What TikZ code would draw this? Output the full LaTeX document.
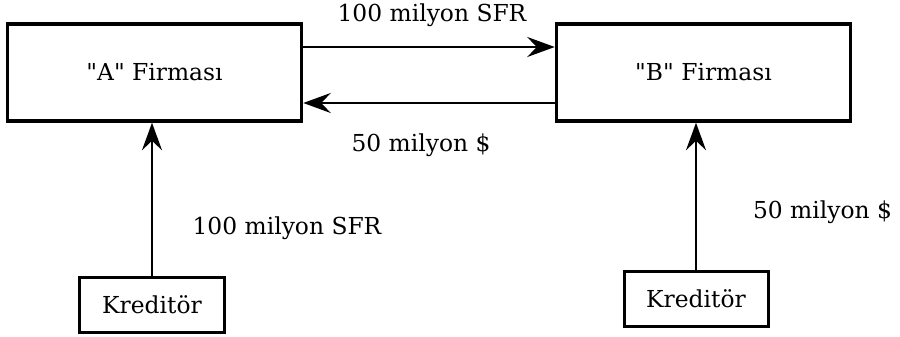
\documentclass[tikz,border=0pt]{standalone}
\usepackage{fontspec}
\setmainfont{DejaVu Serif}
\usetikzlibrary{arrows.meta}
\tikzset{
	firma/.style={draw, line width=0.7mm, minimum width=5.88cm, minimum height=1.94cm, font=\fontsize{13.3}{16}\selectfont},
	kredi/.style={draw, line width=0.6mm, minimum width=2.88cm, minimum height=1.1cm, font=\fontsize{13.3}{16}\selectfont},
	akis/.style={line width=0.5mm, -{Stealth[length=5.5mm, width=4mm, inset=1.9mm]}},
	tutar/.style={font=\fontsize{13.3}{16}\selectfont}
}

\begin{document}
\begin{tikzpicture}
			%%%%% START %%%%%
			\useasboundingbox (0, 0) rectangle (18, 6.72);
			
			\node[firma] (firmaA) at (3.09, 5.27) {\textquotedbl A\textquotedbl\ Firması};
			\node[firma] (firmaB) at (14.07, 5.27) {\textquotedbl B\textquotedbl\ Firması};
			
			\node[kredi] (kredA) at (3.04, 0.63) {Kreditör};
			\node[kredi] (kredB) at (13.92, 0.75) {Kreditör};
			
			\draw[akis] ([yshift=5.1mm]firmaA.east) -- ([yshift=5.1mm]firmaB.west);
			\draw[akis] ([yshift=-6.1mm]firmaB.west) -- ([yshift=-6.1mm]firmaA.east);
			
			\draw[akis] (kredA.north) -- (kredA.north |- firmaA.south);
			\draw[akis] (kredB.north) -- (kredB.north |- firmaB.south);
			
			\node[tutar] (sfrUst) at (8.64, 6.42) {100 milyon SFR};
			\node[tutar] (dolarAlt) at (8.42, 3.82) {50 milyon \$};
			\node[tutar] (sfrKredi) at (5.74, 2.16) {100 milyon SFR};
			\node[tutar] (dolarKredi) at (16.45, 2.48) {50 milyon \$};
			
			%%%%% END %%%%%
\end{tikzpicture}
\end{document}
